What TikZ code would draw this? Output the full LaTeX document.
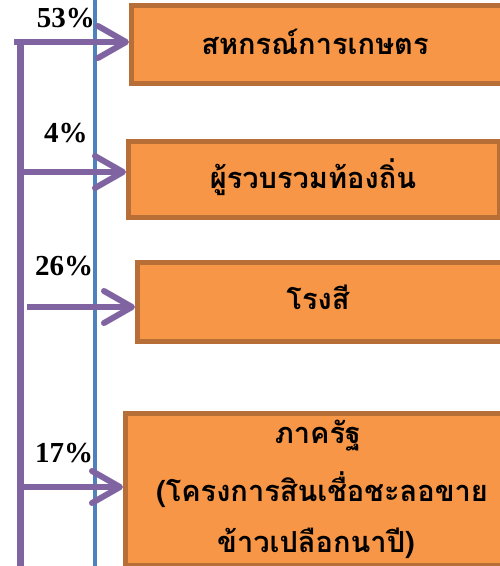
\documentclass[tikz,border=0pt]{standalone}
\usepackage{fontspec}
\setmainfont{Liberation Serif}
\newfontfamily\thaifont[Script=Thai]{Loma}
\usetikzlibrary{arrows.meta}
\definecolor{boxfill}{RGB}{247,150,70}
\definecolor{boxline}{RGB}{183,110,55}
\definecolor{arrpurple}{RGB}{128,100,162}
\definecolor{lineblue}{RGB}{79,129,189}
\begin{document}
\begin{tikzpicture}[x=1pt,y=-1pt,
 box/.style={draw=boxline,fill=boxfill,line width=4.5pt,inner sep=0pt,anchor=north west},
 pct/.style={font=\bfseries\fontsize{29}{29}\selectfont,anchor=base,inner sep=0pt},
 thai/.style={font=\thaifont\bfseries\fontsize{29}{32}\selectfont,anchor=base,inner sep=0pt},
 arr/.style={draw=arrpurple,line width=6pt,-{Straight Barb[length=28pt,width=32pt,round]}},
 trunk/.style={draw=arrpurple,line width=7pt},
 guide/.style={draw=lineblue,line width=3.5pt}]
\useasboundingbox (0,0) rectangle (500,566);
% boxes
\node[box,minimum width=374pt,minimum height=78pt] (b1) at (129,3) {};
\node[box,minimum width=371pt,minimum height=76pt] (b2) at (126,139) {};
\node[box,minimum width=370pt,minimum height=79pt] (b3) at (135,260) {};
\node[box,minimum width=384pt,minimum height=152pt] (b4) at (123,411) {};
% box texts
\node[thai] (t1) at (315,54) {สหกรณ์การเกษตร};
\node[thai] (t2) at (313,188) {ผู้รวบรวมท้องถิ่น};
\node[thai] (t3) at (318,309) {โรงสี};
\node[thai] (t4a) at (318,443) {ภาครัฐ};
\node[thai] (t4b) at (322,501) {(โครงการสินเชื่อชะลอขาย};
\node[thai] (t4c) at (316,552) {ข้าวเปลือกนาปี)};
% percentages
\node[pct] (p1) at (66,27) {53\%};
\node[pct] (p2) at (66,142) {4\%};
\node[pct] (p3) at (64,275) {26\%};
\node[pct] (p4) at (64,462) {17\%};
% blue guide line
\coordinate (g1) at (95,-5);
\coordinate (g2) at (95,570);
\draw[guide] (g1) -- (g2);
% purple trunk
\coordinate (k1) at (20,45);
\coordinate (k2) at (20,570);
\draw[trunk] (k1) -- (k2);
% arrows
\coordinate (s1) at (14,42);
\coordinate (s2) at (18,172);
\coordinate (s3) at (27,307);
\coordinate (s4) at (20,487);
\draw[arr] (s1) -- (s1 -| b1.west);
\draw[arr] (s2) -- (s2 -| b2.west);
\draw[arr] (s3) -- (s3 -| b3.west);
\draw[arr] (s4) -- (s4 -| b4.west);
\end{tikzpicture}
\end{document}
